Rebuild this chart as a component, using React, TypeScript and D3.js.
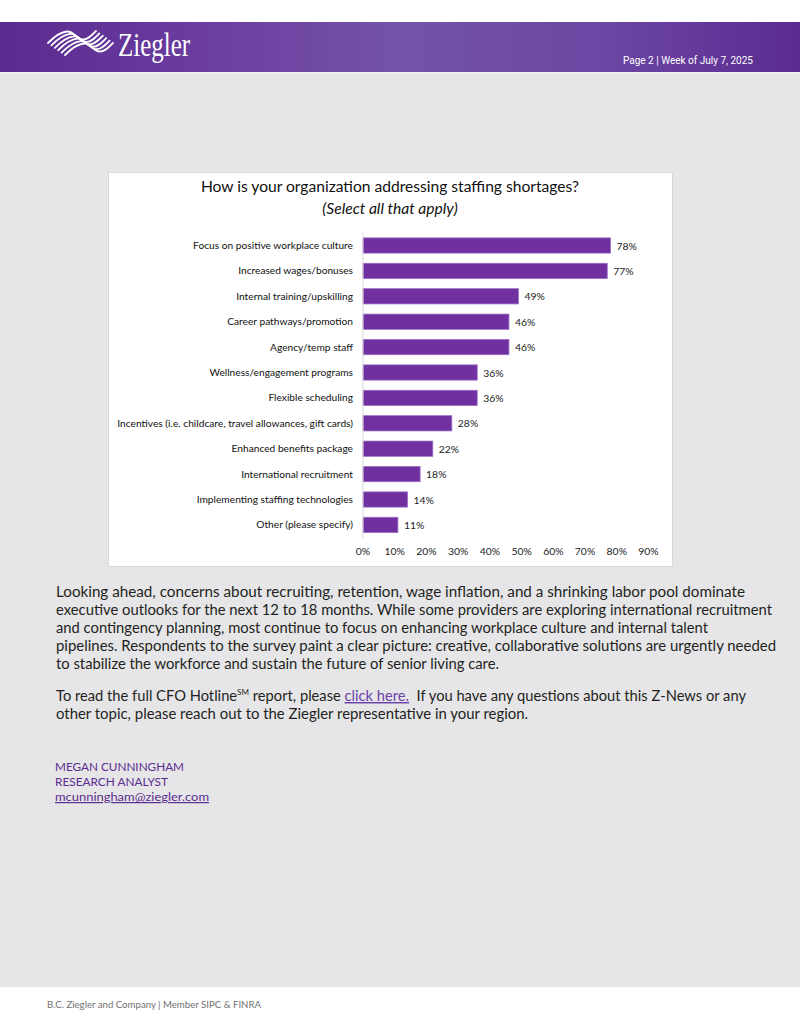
import * as d3 from "d3";
import React from "react";

// survey responses, % of respondents
const categories = [
  "Focus on positive workplace culture",
  "Increased wages/bonuses",
  "Internal training/upskilling",
  "Career pathways/promotion",
  "Agency/temp staff",
  "Wellness/engagement programs",
  "Flexible scheduling",
  "Incentives (i.e. childcare, travel allowances, gift cards)",
  "Enhanced benefits package",
  "International recruitment",
  "Implementing staffing technologies",
  "Other (please specify)",
];
const values = [78, 77, 49, 46, 46, 36, 36, 28, 22, 18, 14, 11];
const tickValues = [0, 10, 20, 30, 40, 50, 60, 70, 80, 90];

const chartTitle = "How is your organization addressing staffing shortages?";
const chartSubtitle = "(Select all that apply)";

const para1 = [
  "Looking ahead, concerns about recruiting, retention, wage inflation, and a shrinking labor pool dominate",
  "executive outlooks for the next 12 to 18 months. While some providers are exploring international recruitment",
  "and contingency planning, most continue to focus on enhancing workplace culture and internal talent",
  "pipelines. Respondents to the survey paint a clear picture: creative, collaborative solutions are urgently needed",
  "to stabilize the workforce and sustain the future of senior living care.",
];
const para1Widths = [689, 716, 652, 720, 443];

const W = 800;
const H = 1035;
const PURPLE = "#7030a0";
const BODY_FONT = "Lato, 'Open Sans', sans-serif";
const CHART_FONT = "Lato, 'Liberation Sans', sans-serif";

const Logo = () => {
  // rough wave mark: parallel ribbons shifted down-right
  const ribbons = d3.range(6).map((i) => {
    const dx = i * 3.4;
    const dy = i * 2.4;
    const p = (x: number, y: number) => `${x + dx},${y + dy}`;
    return `M${p(48, 43)} C${p(54, 37)} ${p(60, 32)} ${p(67, 31.5)} C${p(74, 31)} ${p(76, 39)} ${p(82, 39.5)} C${p(88, 40)} ${p(92, 35)} ${p(96, 31)}`;
  });
  return (
    <g>
      {ribbons.map((d, i) => (
        <path key={i} d={d} fill="none" stroke="#fff" strokeWidth={1.8} strokeLinecap="round" />
      ))}
      <text
        x={118}
        y={56}
        fill="#fff"
        fontFamily="'Liberation Serif', 'DejaVu Serif', serif"
        fontSize={33}
        textLength={72}
        lengthAdjust="spacingAndGlyphs"
      >
        Ziegler
      </text>
    </g>
  );
};

const BarChart = () => {
  const x = d3.scaleLinear().domain([0, 90]).range([363, 648.5]);
  const y = d3.scaleBand<string>().domain(categories).range([232.8, 537.6]).paddingInner(0.4).paddingOuter(0.2);

  return (
    <g fontFamily={CHART_FONT}>
      <rect x={108.5} y={172.5} width={564} height={394} fill="#fff" stroke="#d9d9d9" />
      <text x={390} y={192} textAnchor="middle" fontSize={15.6} fill="#111">
        {chartTitle}
      </text>
      <text x={390} y={214} textAnchor="middle" fontSize={15.6} fontStyle="italic" fill="#111">
        {chartSubtitle}
      </text>

      {categories.map((c, i) => {
        const by = y(c) || 0;
        const cy = by + y.bandwidth() / 2;
        return (
          <g key={c}>
            <text x={x(0) - 10} y={cy} dy="0.35em" textAnchor="end" fontSize={10.2} fill="#111">
              {c}
            </text>
            <rect
              x={x(0)}
              y={by}
              width={x(values[i]) - x(0)}
              height={y.bandwidth()}
              fill={PURPLE}
              stroke="#9b6cc4"
              strokeWidth={0.8}
            />
            <text x={x(values[i]) + 6} y={cy} dy="0.4em" fontSize={10.4} fill="#222">
              {values[i]}%
            </text>
          </g>
        );
      })}

      <line x1={x(0)} x2={x(0)} y1={232} y2={538} stroke="#d9d9d9" />
      {tickValues.map((t) => (
        <text key={t} x={x(t)} y={555} textAnchor="middle" fontSize={10.4} fill="#222">
          {t}%
        </text>
      ))}
    </g>
  );
};

export default function App() {
  return (
    <div style={{ position: "absolute", left: 0, top: 0 }}>
      <svg width={W} height={H} style={{ display: "block" }}>
        <defs>
          <linearGradient id="hdr" x1="0" x2="1" y1="0" y2="0">
            <stop offset="0" stopColor="#5b2a8f" />
            <stop offset="0.25" stopColor="#6a3d9f" />
            <stop offset="0.5" stopColor="#7553a9" />
            <stop offset="0.75" stopColor="#6c47a3" />
            <stop offset="1" stopColor="#5a2b91" />
          </linearGradient>
        </defs>
        <rect x={0} y={0} width={W} height={H} fill="#fff" />
        <rect x={0} y={74} width={W} height={913} fill="#e6e6e8" />
        <rect x={0} y={22} width={W} height={50} fill="url(#hdr)" />
        <rect x={0} y={72} width={W} height={2} fill="#f1f1f3" />
        <Logo />
        <text
          x={623}
          y={64}
          fill="#fff"
          fontFamily="'Roboto', 'Liberation Sans', sans-serif"
          fontSize={10.5}
          textLength={130}
          lengthAdjust="spacingAndGlyphs"
        >
          Page 2 | Week of July 7, 2025
        </text>

        <BarChart />

        <g fontFamily={BODY_FONT} fontSize={14.5} fill="#231f20">
          {para1.map((line, i) => (
            <text key={i} x={56} y={597 + i * 18} textLength={para1Widths[i]} lengthAdjust="spacingAndGlyphs">
              {line}
            </text>
          ))}
          <text x={56} y={701} textLength={690} lengthAdjust="spacingAndGlyphs">
            To read the full CFO Hotline
            <tspan fontSize={8} dy={-6}>SM</tspan>
            <tspan dy={6}> report, please </tspan>
            <tspan fill="#6b3fa8" textDecoration="underline">click here.</tspan>
            <tspan>{"\u00a0 If you have any questions about this Z-News or any"}</tspan>
          </text>
          <text x={56} y={719} textLength={472} lengthAdjust="spacingAndGlyphs">
            other topic, please reach out to the Ziegler representative in your region.
          </text>
        </g>

        <g fontFamily={BODY_FONT} fontSize={12} fill="#5b2c8f">
          <text x={55} y={771} textLength={129} lengthAdjust="spacingAndGlyphs">MEGAN CUNNINGHAM</text>
          <text x={55} y={786} textLength={113} lengthAdjust="spacingAndGlyphs">RESEARCH ANALYST</text>
          <text x={55} y={801} textLength={154} lengthAdjust="spacingAndGlyphs" textDecoration="underline">
            mcunningham@ziegler.com
          </text>
        </g>

        <text
          x={47}
          y={1008}
          fontFamily={BODY_FONT}
          fontSize={10}
          fill="#707070"
          textLength={214}
          lengthAdjust="spacingAndGlyphs"
        >
          B.C. Ziegler and Company | Member SIPC &amp; FINRA
        </text>
      </svg>
    </div>
  );
}
